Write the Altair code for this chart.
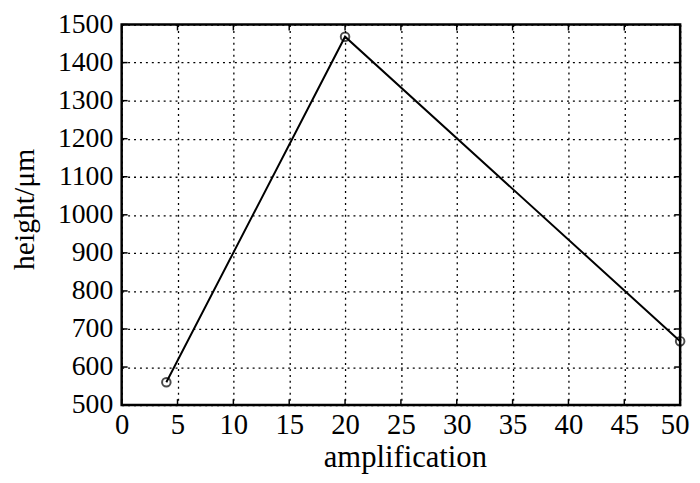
import altair as alt
import pandas as pd

amplification = [4, 20, 50]
height_um = [560, 1468, 668]

x_ticks = [0, 5, 10, 15, 20, 25, 30, 35, 40, 45, 50]
y_ticks = [500, 600, 700, 800, 900, 1000, 1100, 1200, 1300, 1400, 1500]

df = pd.DataFrame({"amplification": amplification, "height": height_um})
xt = pd.DataFrame({"v": x_ticks})
yt = pd.DataFrame({"v": y_ticks})
xt_last = pd.DataFrame({"v": [x_ticks[-1]]})

W, H = 565, 385
FONT = "Liberation Serif"
LFS = 29

xscale = alt.Scale(domain=[0, 50], nice=False)
yscale = alt.Scale(domain=[500, 1500], nice=False)

xaxis = alt.Axis(values=x_ticks, title="amplification", format="d",
                 grid=True, gridColor="black", gridDash=[2, 4], gridWidth=1.3,
                 gridOpacity=1, labelFlush=False, labelOverlap=False,
                 labelExpr="datum.value == 50 ? '' : datum.label",
                 ticks=False, domain=False, labelPadding=6,
                 labelFont=FONT, labelFontSize=LFS, labelColor="black",
                 titleFont=FONT, titleFontSize=31, titleFontWeight="normal",
                 titleColor="black", titleX=W / 2 + 4, titleY=62,
                 titleBaseline="alphabetic", titleAlign="center")
yaxis = alt.Axis(values=y_ticks, title="height/μm", format="d",
                 grid=True, gridColor="black", gridDash=[2, 4], gridWidth=1.3,
                 gridOpacity=1, labelFlush=False, labelOverlap=False,
                 ticks=False, domain=False, labelPadding=9,
                 labelFont=FONT, labelFontSize=LFS - 1, labelColor="black",
                 titleFont=FONT, titleFontSize=30, titleFontWeight="normal",
                 titleColor="black", titleAngle=-90, titleX=-89,
                 titleY=H / 2 - 6, titleBaseline="alphabetic", titleAlign="center")

base = alt.Chart(df)

line = base.mark_line(color="black", strokeWidth=2).encode(
    x=alt.X("amplification:Q", scale=xscale, axis=xaxis),
    y=alt.Y("height:Q", scale=yscale, axis=yaxis),
)

points = base.mark_point(shape="circle", filled=False, color="black",
                         size=75, strokeWidth=2).encode(
    x=alt.X("amplification:Q", scale=xscale, axis=xaxis),
    y=alt.Y("height:Q", scale=yscale, axis=yaxis),
)

last_label = alt.Chart(xt_last).mark_text(
    font=FONT, fontSize=LFS, color="black", baseline="top", align="center", dx=-5
).encode(x=alt.X("v:Q", scale=xscale, axis=xaxis), y=alt.value(H + 6),
         text=alt.Text("v:Q", format="d"))

xtick_bottom = alt.Chart(xt).mark_rule(color="black", strokeWidth=1.5).encode(
    x=alt.X("v:Q", scale=xscale, axis=xaxis), y=alt.value(H), y2=alt.value(H - 6))
xtick_top = alt.Chart(xt).mark_rule(color="black", strokeWidth=1.5).encode(
    x=alt.X("v:Q", scale=xscale, axis=xaxis), y=alt.value(0), y2=alt.value(6))
ytick_left = alt.Chart(yt).mark_rule(color="black", strokeWidth=1.5).encode(
    y=alt.Y("v:Q", scale=yscale, axis=yaxis), x=alt.value(0), x2=alt.value(6))
ytick_right = alt.Chart(yt).mark_rule(color="black", strokeWidth=1.5).encode(
    y=alt.Y("v:Q", scale=yscale, axis=yaxis), x=alt.value(W), x2=alt.value(W - 6))

chart = alt.layer(line, xtick_bottom, xtick_top, ytick_left, ytick_right,
                  points, last_label).properties(
    width=W, height=H,
    autosize=alt.AutoSizeParams(type="none"),
    padding={"left": 115, "top": 14, "right": 12, "bottom": 68},
    background="white",
).configure_view(stroke="black", strokeWidth=2.5)

chart.save("out.html", embed_options={"renderer": "svg", "actions": False})
